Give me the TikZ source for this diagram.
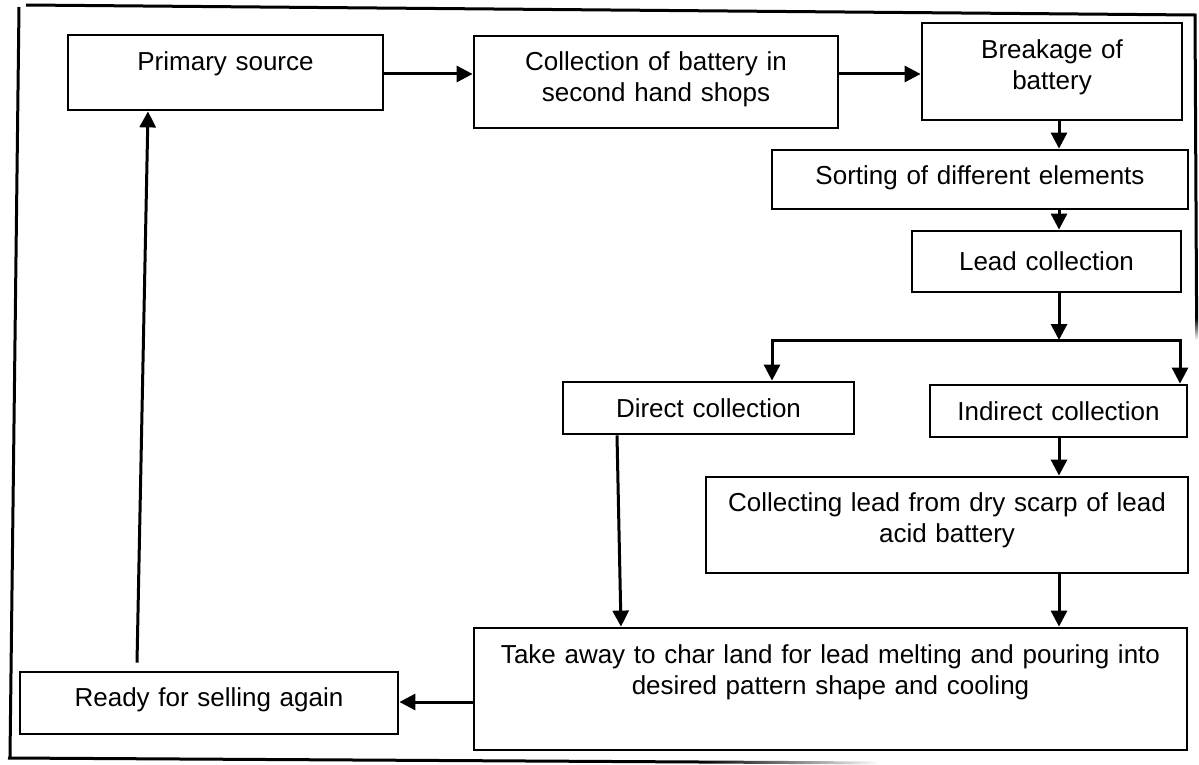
\documentclass[tikz,border=0pt]{standalone}
\usepackage{fontspec}
\setmainfont{Liberation Sans}
\usetikzlibrary{arrows.meta}

% Box with given left/right/top/bottom edges and first baseline (all in pt, y downwards)
\newcommand\placebox[7]{%
  \pgfmathsetmacro\bw{#3-#2}%
  \pgfmathsetmacro\bh{#6-#4}%
  \pgfmathsetmacro\bd{#5-#6}%
  \node[stepbox, text width=\bw pt, text height=\bh pt, text depth=\bd pt]
    (#1) at ({(#2+#3)/2},{(#4+#5)/2}) {#7};}

\begin{document}
\begin{tikzpicture}[x=1pt, y=-1pt,
  stepbox/.style={draw, line width=2.8pt, inner sep=0pt, align=center,
    font=\fontsize{26}{31}\selectfont},
  tip/.style={Triangle[length=16pt,width=16pt]},
  flow/.style={line width=3pt, -{Triangle[length=16pt,width=16pt]}},
  frameline/.style={line width=3pt}]
\useasboundingbox (0,0) rectangle (1199,765);

% outer frame
\draw[frameline] (26,5) -- (1195,15) -- (1196.6,318);
\shade[top color=black, bottom color=white] (1195,318) rectangle (1198.2,340);
\draw[frameline] (19,7) -- (10,757);
\draw[frameline] (8,758) -- (700,762);
\shade[left color=black, right color=white]
  (700,760.5) -- (880,761.5) -- (880,764.5) -- (700,763.5) -- cycle;

% process boxes
\placebox{prim}{68}{383}{35}{110}{71}{Primary source}
\placebox{coll}{474}{838}{36}{128}{71}{Collection of battery in\\second hand shops}
\placebox{brk}{922}{1182}{23}{120}{59}{Breakage of\\battery}
\placebox{sort}{772}{1188}{150}{209}{184}{Sorting of different elements}
\placebox{lead}{912}{1181}{231}{292}{270}{Lead collection}
\placebox{direct}{563}{854}{382}{434}{417}{Direct collection}
\placebox{indir}{930}{1187}{385}{437}{420}{Indirect collection}
\placebox{dry}{706}{1188}{477}{573}{511}{Collecting lead from dry scarp of lead\\acid battery}
\placebox{melt}{474}{1187}{628}{750}{663}{Take away to char land for lead melting and pouring into\\desired pattern shape and cooling}
\placebox{ready}{20}{398}{672}{734}{706}{Ready for selling again}

% helper coordinates
\coordinate (spine) at (1059,0);
\coordinate (split) at (1059,340);
\coordinate (bl) at (772,340);
\coordinate (br) at (1180,340);
\coordinate (topflow) at (0,74);

% connectors
\draw[flow] (prim.east |- topflow) -- (coll.west |- topflow);
\draw[flow] (coll.east |- topflow) -- (brk.west |- topflow);
\draw[flow] (brk.south -| spine) -- (sort.north -| spine);
\draw[flow] (sort.south -| spine) -- (lead.north -| spine);
\draw[flow] (lead.south -| spine) -- (split);
\draw[line width=3pt, {Triangle[length=16pt,width=16pt]}-{Triangle[length=16pt,width=16pt]}]
  (direct.north -| bl) |- (split) -| (indir.north -| br);
\draw[flow] (indir.south -| spine) -- (dry.north -| spine);
\draw[flow] (dry.south -| spine) -- (melt.north -| spine);
\draw[flow] ([xshift=-91.5pt]direct.south) -- ([xshift=-209.5pt]melt.north);
\draw[flow] (melt.west |- 0,702) -- (ready.east |- 0,702);
\draw[flow] ([xshift=-72pt,yshift=8pt]ready.north) -- ([xshift=-77.5pt]prim.south);
\end{tikzpicture}
\end{document}
